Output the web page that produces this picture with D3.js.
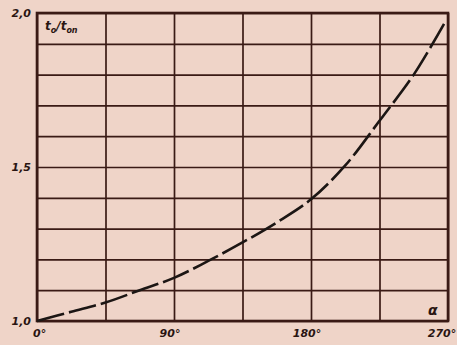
<!DOCTYPE html>
<html>
<head>
<meta charset="utf-8">
<script src="https://cdn.jsdelivr.net/npm/d3@7"></script>
<style>
  body { margin: 0; background: #efd4c8; }
  svg { display: block; }
  text { font-family: "DejaVu Sans", sans-serif; font-style: italic; font-weight: bold; fill: #2a1512; }
</style>
</head>
<body>
<div id="chart"></div>
<script>
// angle alpha in degrees
var angles = [0, 22.5, 45, 67.5, 90, 112.5, 135, 157.5, 180, 202.5, 225, 247.5, 268];
// ratio t0/ton
var ratios = [1.00, 1.03, 1.06, 1.10, 1.14, 1.195, 1.255, 1.32, 1.395, 1.505, 1.65, 1.80, 1.97];

var xTickValues = [0, 90, 180, 270];
var xTickLabels = ["0°", "90°", "180°", "270°"];
var yTickValues = [1.0, 1.5, 2.0];
var yTickLabels = ["1,0", "1,5", "2,0"];

var width = 457, height = 345;
var plotLeft = 37, plotRight = 448, plotTop = 13, plotBottom = 321;

var svg = d3.select("#chart").append("svg")
            .attr("width", width)
            .attr("height", height);

var x = d3.scaleLinear().domain([0, 270]).range([plotLeft, plotRight]);
var y = d3.scaleLinear().domain([1, 2]).range([plotBottom, plotTop]);

var lineColor = "#3a1a15";

// grid: every 45 degrees, every 0.1
var xGrid = d3.axisBottom(x).tickValues(d3.range(0, 271, 45)).tickSize(-(plotBottom - plotTop)).tickFormat("");
var yGrid = d3.axisLeft(y).tickValues(d3.range(10, 21).map(function(d) { return d / 10; })).tickSize(-(plotRight - plotLeft)).tickFormat("");

svg.append("g").attr("transform", "translate(0," + plotBottom + ")").call(xGrid)
   .call(function(g) { g.select(".domain").remove(); })
   .selectAll("line").attr("stroke", lineColor).attr("stroke-width", 1.7);
svg.append("g").attr("transform", "translate(" + plotLeft + ",0)").call(yGrid)
   .call(function(g) { g.select(".domain").remove(); })
   .selectAll("line").attr("stroke", lineColor).attr("stroke-width", 1.7);

// frame
svg.append("rect")
   .attr("x", plotLeft).attr("y", plotTop)
   .attr("width", plotRight - plotLeft).attr("height", plotBottom - plotTop)
   .attr("fill", "none").attr("stroke", lineColor).attr("stroke-width", 2.6);

// curve
var line = d3.line()
             .x(function(d, i) { return x(angles[i]); })
             .y(function(d) { return y(d); })
             .curve(d3.curveCatmullRom);

svg.append("path")
   .datum(ratios)
   .attr("d", line)
   .attr("fill", "none")
   .attr("stroke", "#1c1614")
   .attr("stroke-width", 2.6)
   .attr("stroke-dasharray", "28,5");

// tick labels
svg.selectAll("text.ylab")
   .data(yTickValues)
   .enter().append("text")
   .attr("class", "ylab")
   .attr("x", plotLeft - 6)
   .attr("y", function(d) { return y(d) + 4; })
   .attr("text-anchor", "end")
   .attr("font-size", 11)
   .text(function(d, i) { return yTickLabels[i]; });

svg.selectAll("text.xlab")
   .data(xTickValues)
   .enter().append("text")
   .attr("class", "xlab")
   .attr("x", function(d) { return x(d); })
   .attr("y", plotBottom + 16)
   .attr("text-anchor", function(d, i) { return i == 0 ? "start" : "middle"; })
   .attr("dx", function(d, i) { return i == 0 ? -4 : (i == 3 ? -6 : -4); })
   .attr("font-size", 11)
   .text(function(d, i) { return xTickLabels[i]; });

// axis names
var yName = svg.append("text").attr("x", 45).attr("y", 30).attr("font-size", 12);
yName.append("tspan").text("t");
yName.append("tspan").attr("font-size", 8).attr("dy", 3).text("o");
yName.append("tspan").attr("dy", -3).text("/t");
yName.append("tspan").attr("font-size", 8).attr("dy", 3).text("on");

svg.append("text").attr("x", 428).attr("y", 315).attr("font-size", 14).text("α");
</script>
</body>
</html>
